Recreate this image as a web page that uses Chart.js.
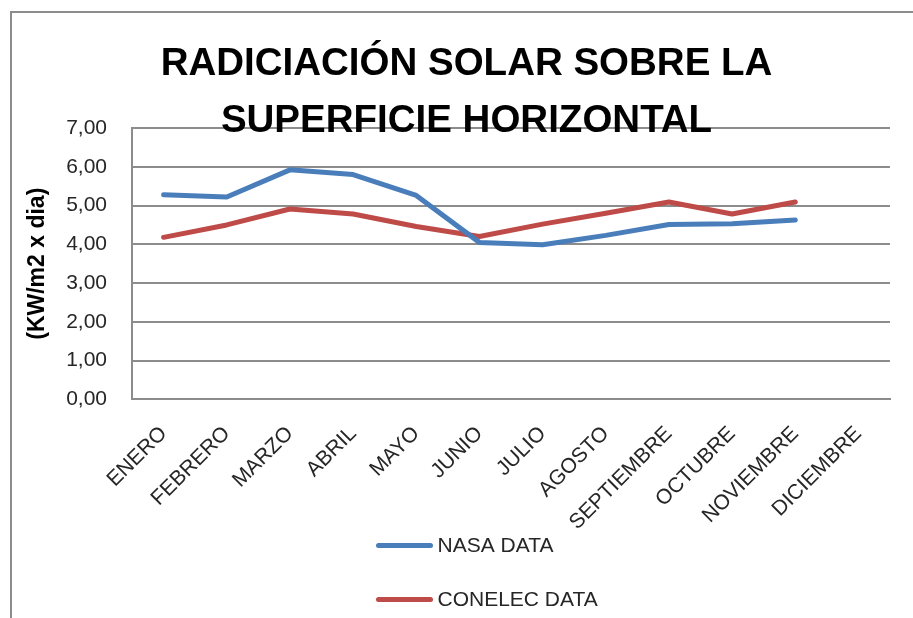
<!DOCTYPE html>
<html>
<head>
<meta charset="utf-8">
<script src="https://cdn.jsdelivr.net/npm/chart.js@4.4.0/dist/chart.umd.min.js"></script>
<style>
  html, body { margin: 0; padding: 0; background: #fff; overflow: hidden; }
  #wrap { position: relative; width: 913px; height: 618px; }
  #frame { position: absolute; left: 10px; top: 11px; width: 1000px; height: 1000px; border: 2px solid #8c8c8c; }
  #chart { position: absolute; left: 0; top: 0; }
</style>
</head>
<body>
<div id="wrap">
  <div id="frame"></div>
  <canvas id="chart" width="913" height="618"></canvas>
</div>
<script>
  // Months on the category axis
  const months = ["ENERO", "FEBRERO", "MARZO", "ABRIL", "MAYO", "JUNIO", "JULIO",
                  "AGOSTO", "SEPTIEMBRE", "OCTUBRE", "NOVIEMBRE", "DICIEMBRE"];

  // Radiation values (KW/m2 x dia), no data for December
  const nasaData = [5.28, 5.22, 5.92, 5.80, 5.26, 4.05, 3.99, 4.23, 4.51, 4.53, 4.63, null];
  const conelecData = [4.18, 4.50, 4.91, 4.78, 4.46, 4.20, 4.52, 4.80, 5.09, 4.78, 5.09, null];

  const titleLines = ["RADICIACIÓN SOLAR SOBRE LA", "SUPERFICIE HORIZONTAL"];
  const yAxisTitle = "(KW/m2 x dia)";

  const tickFont = { family: "'Liberation Sans', Arial, sans-serif", size: 21 };

  // Legend drawn as a vertical list below the axis
  const legendRows = {
    id: "legendRows",
    afterDraw(chart) {
      const ctx = chart.ctx;
      const x0 = chart.width / 2 - 80;
      ctx.save();
      ctx.font = "21px 'Liberation Sans', Arial, sans-serif";
      ctx.textBaseline = "middle";
      ctx.lineCap = "round";
      chart.data.datasets.forEach(function(ds, i) {
        const y = chart.chartArea.bottom + 146 + i * 54;
        ctx.strokeStyle = ds.borderColor;
        ctx.lineWidth = 5;
        ctx.beginPath();
        ctx.moveTo(x0 + 2, y);
        ctx.lineTo(x0 + 54, y);
        ctx.stroke();
        ctx.fillStyle = "#262626";
        ctx.fillText(ds.label, x0 + 61, y + 1);
      });
      ctx.restore();
    }
  };

  const ctx = document.getElementById("chart").getContext("2d");
  new Chart(ctx, {
    type: "line",
    data: {
      labels: months,
      datasets: [
        {
          label: "NASA DATA",
          data: nasaData,
          borderColor: "#4a7ebb",
          borderWidth: 5,
          pointRadius: 0,
          borderCapStyle: "round",
          borderJoinStyle: "round",
          tension: 0
        },
        {
          label: "CONELEC DATA",
          data: conelecData,
          borderColor: "#be4b48",
          borderWidth: 5,
          pointRadius: 0,
          borderCapStyle: "round",
          borderJoinStyle: "round",
          tension: 0
        }
      ]
    },
    options: {
      responsive: false,
      animation: false,
      layout: { padding: { left: 22, right: 2, top: 12, bottom: 61 } },
      plugins: {
        legend: { display: false },
        tooltip: { enabled: false },
        title: {
          display: true,
          text: titleLines,
          color: "#000",
          font: { family: "'Liberation Sans', Arial, sans-serif", size: 38.5, weight: "bold", lineHeight: 1.48 },
          padding: { top: 24, bottom: -22 }
        }
      },
      scales: {
        x: {
          offset: true,
          grid: { display: false, drawTicks: false },
          border: { display: true, color: "#8c8c8c", width: 2 },
          ticks: {
            color: "#262626",
            font: tickFont,
            minRotation: 45,
            maxRotation: 45,
            autoSkip: false,
            padding: 22
          }
        },
        y: {
          min: 0,
          max: 7,
          afterFit: function(scale) { scale.width = 110; },
          grid: { color: "#8c8c8c", lineWidth: 2, drawTicks: false },
          border: { display: true, color: "#8c8c8c", width: 2 },
          ticks: {
            stepSize: 1,
            color: "#262626",
            font: tickFont,
            padding: 25,
            callback: function(v) { return v.toFixed(2).replace(".", ","); }
          },
          title: {
            display: true,
            text: yAxisTitle,
            color: "#000",
            font: { family: "'Liberation Sans', Arial, sans-serif", size: 23, weight: "bold" },
            padding: { top: 2, bottom: 0 }
          }
        },
        yRight: {
          position: "right",
          display: true,
          afterFit: function(scale) { scale.width = 21; },
          grid: { display: false, drawTicks: false },
          border: { display: false },
          ticks: { display: false }
        }
      }
    },
    plugins: [legendRows]
  });
</script>
</body>
</html>
